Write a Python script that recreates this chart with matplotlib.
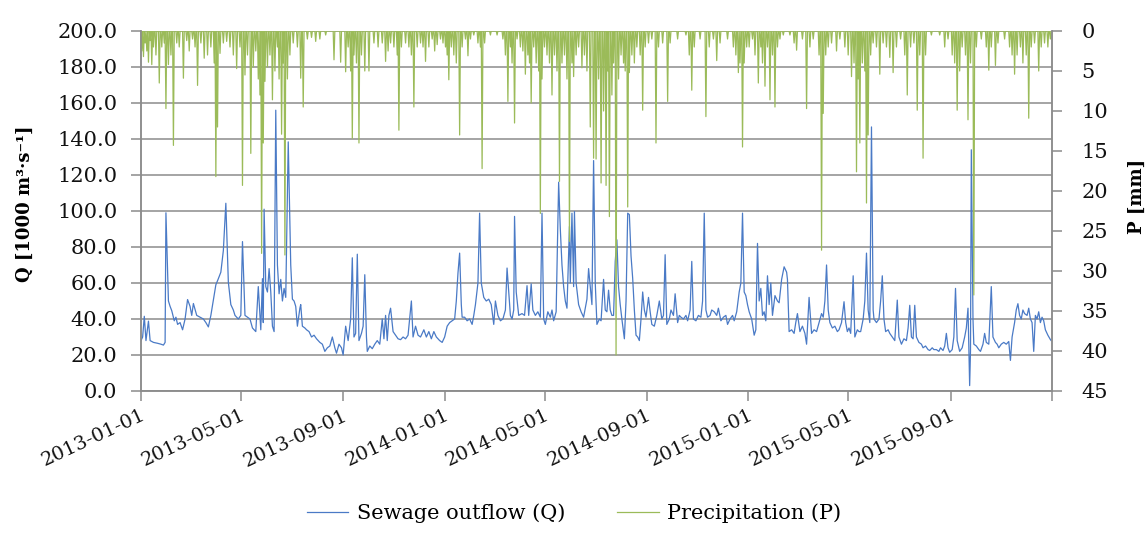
import numpy as np
import pandas as pd
import matplotlib
matplotlib.use("Agg")
import matplotlib.pyplot as plt

# ---------- data ----------
start = pd.Timestamp("2013-01-01")

# sewage outflow Q [1000 m3/s], day offset from 2013-01-01
q_day = [0, 2, 4, 6, 9, 11, 15, 20, 24, 27, 29, 30, 33, 35, 37, 40, 42, 44, 47, 50,
         53, 56, 59, 61, 63, 67, 71, 75, 78, 81, 84, 87, 90, 93, 96, 99, 102, 105, 108, 111,
         113, 117, 120, 122, 125, 128, 131, 134, 138, 141, 144, 146, 147, 148, 150, 152, 154, 156, 158, 160,
         162, 164, 166, 168, 170, 172, 174, 177, 180, 182, 184, 186, 188, 191, 192, 194, 197, 199, 202, 205,
         208, 211, 215, 218, 221, 224, 227, 230, 233, 235, 238, 241, 243, 246, 249, 252, 254, 256, 258, 260,
         262, 265, 267, 269, 271, 272, 275, 278, 281, 284, 287, 290, 292, 294, 296, 298, 300, 303, 306, 309,
         312, 315, 318, 321, 325, 327, 330, 333, 336, 340, 343, 346, 349, 352, 355, 359, 362, 365, 368, 371,
         374, 377, 379, 381, 383, 385, 386, 389, 392, 395, 398, 400, 402, 405, 407, 409, 412, 415, 418, 421,
         424, 426, 429, 432, 435, 438, 440, 442, 444, 446, 448, 449, 451, 454, 458, 461, 464, 466, 469, 471,
         474, 477, 480, 482, 484, 486, 489, 492, 494, 496, 499, 502, 504, 506, 508, 510, 512, 515, 516, 518,
         520, 521, 523, 526, 529, 532, 534, 536, 538, 540, 542, 544, 546, 548, 551, 553, 556, 558, 560, 562,
         564, 566, 568, 570, 572, 574, 576, 578, 581, 583, 585, 587, 589, 591, 593, 595, 597, 599, 601, 603,
         605, 607, 610, 612, 614, 617, 620, 623, 626, 628, 630, 632, 635, 637, 640, 642, 645, 647, 649, 652,
         655, 657, 660, 662, 664, 667, 670, 673, 675, 677, 679, 681, 684, 686, 689, 692, 694, 697, 700, 703,
         705, 708, 711, 713, 716, 719, 721, 723, 725, 727, 729, 731, 734, 737, 739, 741, 743, 745, 747, 749,
         751, 753, 755, 757, 759, 762, 765, 767, 770, 773, 776, 777, 779, 782, 785, 787, 789, 792, 795, 798,
         800, 803, 806, 809, 812, 815, 818, 820, 822, 824, 826, 828, 831, 834, 837, 839, 842, 845, 847, 849,
         851, 853, 856, 858, 861, 863, 865, 868, 870, 872, 874, 876, 878, 880, 881, 884, 887, 889, 891, 893,
         895, 898, 900, 903, 906, 909, 911, 914, 917, 920, 922, 924, 926, 928, 930, 932, 935, 938, 940, 943,
         946, 948, 951, 953, 956, 959, 961, 964, 966, 968, 970, 972, 975, 977, 979, 981, 984, 987, 990, 992,
         994, 996, 997, 998, 1000, 1001, 1004, 1007, 1009, 1012, 1014, 1016, 1019, 1022, 1024, 1027, 1029, 1031, 1034, 1037,
         1040, 1043, 1045, 1047, 1050, 1052, 1054, 1056, 1058, 1060, 1062, 1065, 1067, 1069, 1071, 1073, 1075, 1077, 1079, 1081,
         1083, 1085, 1087, 1090, 1093, 1094]
q_val = [28, 30, 41.5, 28, 38.8, 28, 27, 26.5, 26, 25.5, 27, 99, 50, 47, 44.6, 39, 41, 37, 38, 34,
         40, 50.8, 47, 42, 48.6, 42, 41, 40, 38, 35.6, 42, 50.6, 59, 62.4, 66, 78, 104.3, 60.5, 48, 45,
         42, 40, 42, 83, 42, 41, 40, 35, 33, 58, 34, 62.4, 38, 101, 58, 55, 68, 55, 36, 33,
         156, 70, 54, 62, 50, 57, 52, 138.4, 70, 51, 50, 47, 36, 46, 48, 36, 35, 34, 33, 30,
         31, 29, 27, 26, 22, 24, 25, 30, 24, 21, 26, 24, 20, 36, 28, 40, 74, 30, 32, 76,
         28, 32, 36, 64.6, 30, 22, 25, 23.5, 26, 28, 26, 40, 29, 42, 28, 42, 46, 33, 31, 29,
         28.5, 30, 29, 31, 50, 30, 36, 31, 30, 34, 30, 33, 29, 33, 30, 28, 27, 30, 36, 38,
         39, 40, 50, 65.5, 76.6, 48, 41, 41, 39, 40, 37, 42, 48, 60, 98.8, 60, 52, 50, 51, 48,
         37, 50, 42, 39, 40, 45, 68.3, 55, 42, 40, 45, 97, 55, 42, 43, 42, 58.5, 42, 59.5, 45,
         42, 44, 41, 98.8, 40, 37, 44, 41, 45, 39, 44, 116, 90, 70, 58, 50, 46, 91.4, 60, 98.8,
         58, 99.7, 60, 48, 44, 41, 46, 51, 68, 58, 48, 128, 60, 37, 40, 39, 62, 45, 44, 56,
         45, 42, 42, 72, 84, 58, 48, 40, 29, 50, 98.8, 98, 75, 62.5, 45, 31, 30, 28, 40, 55,
         45, 41, 52, 44, 37, 36, 42, 50, 40, 42, 75.7, 37, 40, 45, 42, 54, 38, 42, 41, 40,
         42, 39, 45, 72, 40, 39, 42, 41, 50, 98.8, 45, 41, 42, 45, 44, 42, 46, 39, 41, 42,
         37, 40, 42, 39, 44, 55, 60, 98.8, 55, 53, 48, 44, 40, 31, 34, 82, 50, 57, 42, 44,
         39, 64, 48, 60, 42, 53, 50, 49, 62, 69, 66, 62, 33, 34, 32, 38, 43, 33, 36, 32,
         26, 52, 32, 34, 33, 38, 43, 41, 50, 70, 45, 38, 35, 36, 33, 34, 38, 49.6, 38, 33,
         35, 32, 64, 30, 34, 33, 33, 40, 50, 76.6, 45, 38, 146.7, 45, 40, 38, 40, 50, 64, 40,
         33, 34, 32, 30, 28, 50.5, 30, 26, 29, 28, 35, 47.6, 30, 29, 47.6, 30, 27, 26, 24, 25,
         23, 22.5, 24, 23, 23, 22, 24, 22.5, 25, 32, 24, 21.5, 23, 30, 57, 28, 22, 24, 30, 35,
         46, 3, 22, 134, 40, 26, 25, 23, 22, 26, 32, 27, 26, 58, 30, 27, 26, 24, 26, 27,
         26, 27.5, 17, 30, 38, 45, 48.5, 42, 40, 45, 43, 42, 46, 40, 38, 22, 42, 40, 44, 38,
         41, 39, 34, 31, 28.6, 28]

# precipitation P [mm] on rainy days, day offset from 2013-01-01 (other days dry)
p_day = [1, 3, 5, 7, 9, 11, 13, 15, 18, 22, 25, 28, 30, 33, 36, 39, 43, 46, 51, 55,
         58, 62, 65, 68, 72, 76, 80, 84, 88, 90, 92, 95, 99, 103, 107, 111, 115, 119, 122, 125,
         128, 132, 135, 138, 141, 143, 145, 147, 149, 152, 155, 158, 161, 164, 166, 169, 171, 173, 176, 179,
         183, 188, 192, 195, 200, 205, 210, 215, 222, 232, 240, 246, 249, 252, 254, 256, 259, 262, 265, 269,
         274, 280, 285, 290, 294, 297, 300, 304, 308, 310, 313, 318, 322, 325, 328, 332, 336, 339, 342, 346,
         350, 353, 356, 360, 363,
         366, 368, 370, 373, 376, 379, 383, 386, 390, 393, 396, 400, 405, 408, 410, 413, 420, 428, 435, 438,
         441, 444, 446, 449, 452, 456, 459, 462, 465, 467, 469, 472, 475, 478, 480, 482, 485, 488, 491, 494,
         497, 500, 503, 506, 509, 512, 515, 518, 520, 523, 526, 530, 533, 536, 540, 544, 547, 550, 553, 556,
         559, 561, 563, 566, 568, 571, 574, 577, 580, 582, 585, 587, 590, 593, 596, 600, 603, 606, 610, 614,
         619, 622, 627, 633, 636, 645, 655, 659, 662, 665, 672, 679, 683, 688, 692, 696, 705, 712, 715, 718,
         720, 723, 725, 728,
         731, 735, 738, 742, 745, 747, 750, 753, 756, 759, 762, 765, 768, 772, 780, 785, 788, 795, 800, 804,
         808, 815, 818, 820, 823, 826, 830, 836, 840, 846, 850, 854, 857, 860, 862, 864, 867, 870, 872, 874,
         877, 880, 884, 888, 892, 896, 900, 904, 908, 913, 918, 921, 925, 929, 933, 936, 940, 943, 950, 960,
         966, 970, 975, 978, 981, 984, 987, 991, 994, 997, 1001, 1004, 1010, 1016, 1019, 1022, 1027, 1030, 1038, 1044,
         1047, 1050, 1053, 1057, 1060, 1064, 1067, 1070, 1074, 1079, 1082, 1086, 1090, 1093]
p_val = [2.5, 3.2, 1.5, 2.5, 3.9, 1.2, 4.2, 2, 3, 6.5, 2, 1.5, 9.7, 4.2, 3, 14.3, 1.5, 2, 5.9, 1.2,
         2.5, 1, 2, 6.8, 1.5, 3.4, 3, 2, 4, 18.2, 12, 2.8, 1.5, 1.3, 2, 3, 4.7, 2, 19.3, 5.5,
         3, 15.3, 4.5, 2.5, 6, 8, 27.8, 14, 6.3, 4.5, 3, 8.6, 5, 2, 6, 12.9, 4, 28, 6, 3,
         1.5, 2, 5.9, 9.5, 1, 0.8, 1.3, 1, 0.5, 3.6, 3.9, 5.1, 2, 5, 13.4, 3, 4, 14, 3, 5,
         5, 1.5, 2, 1.5, 3.8, 2.5, 1.5, 2, 3, 12.4, 2, 1.5, 2, 3, 9.5, 2, 1.5, 2, 3.8, 2,
         1, 2.5, 1.7, 1, 1.5,
         2, 3, 6.1, 2, 3, 4, 13, 2, 1, 3.1, 1, 0.5, 1.5, 2, 17.2, 1.5, 0.5, 0.5, 1, 3,
         8.8, 2, 4, 11.5, 1, 2, 2.5, 5.4, 3, 4, 9, 2, 4, 5, 22.8, 6, 2, 3, 4, 8,
         3, 5, 18.8, 4, 3, 6, 26.3, 4, 5.7, 3, 2, 4.6, 3, 5, 12, 15.9, 16, 6, 19, 10,
         19.3, 5, 23.2, 8, 4, 40.5, 6, 3, 4, 5, 22, 5.2, 3, 4, 2, 3, 9.9, 2, 1.5, 1,
         14, 2, 1.5, 8.8, 1.5, 1, 0.5, 3, 7.4, 2, 1, 10.7, 2, 1, 3.7, 1.5, 1, 2, 3, 5.2,
         4, 14.5, 4, 2,
         2, 1, 3, 6.5, 2, 4, 6.9, 2, 8.6, 3, 9.5, 2, 1, 0.5, 0.5, 1.5, 2.4, 1, 9.7, 2,
         1, 3, 27.4, 10.3, 3, 2, 1.5, 2.5, 1, 2, 3, 5.7, 4, 17.6, 6, 14, 4, 5, 21.5, 13,
         3, 1.5, 2, 5.4, 1.5, 2, 3.3, 5.2, 2, 1, 3, 8, 2, 1.5, 9.9, 3, 15.9, 3, 0.5, 0.5,
         2, 1, 3, 4, 9.9, 5, 2, 3, 11.1, 4, 33, 2, 1, 2, 4.9, 2, 4.3, 1.5, 1, 2,
         3, 5.4, 3, 2, 4, 3, 10.9, 2, 1.5, 5, 2, 1.5, 2, 1]

x_ticks = pd.date_range("2013-01-01", "2016-01-01", freq="4MS")
x_ticklabels = [d.strftime("%Y-%m-%d") for d in x_ticks[:-1]] + [""]

# ---------- build series ----------
q_dates = start + pd.to_timedelta(q_day, unit="D")
p_dates = pd.date_range("2013-01-01", "2015-12-31", freq="D")
p_daily = np.zeros(len(p_dates))
p_daily[p_day] = p_val

# ---------- plot ----------
grid_c = "#8c8c8c"
serif = "DejaVu Serif"
fig = plt.figure(figsize=(11.48, 5.39), dpi=100)
ax = fig.add_axes([0.1228, 0.2746, 0.7936, 0.6679])
ax2 = ax.twinx()

lq, = ax.plot(q_dates, q_val, color="#4a7ac6", lw=0.9, label="Sewage outflow (Q)")
lp, = ax2.plot(p_dates, p_daily, color="#9bbb59", lw=0.9, label="Precipitation (P)")

ax.set_xlim(pd.Timestamp("2013-01-01"), pd.Timestamp("2016-01-01"))
ax.set_ylim(0, 200)
ax.set_yticks(np.arange(0, 201, 20))
ax.set_yticklabels([f"{v:.1f}" for v in np.arange(0, 201, 20)])
ax2.set_ylim(45, 0)
ax2.set_yticks(np.arange(0, 46, 5))

ax.set_xticks(x_ticks)
ax.set_xticklabels(x_ticklabels, rotation=25, ha="right", rotation_mode="anchor")

ax.grid(axis="y", color=grid_c, lw=1.1)
ax.set_axisbelow(True)
for a in (ax, ax2):
    a.spines["top"].set_visible(False)
    for s in ("left", "right", "bottom"):
        a.spines[s].set_color(grid_c)
        a.spines[s].set_linewidth(1.1)

ax.tick_params(axis="y", direction="out", length=7, width=1.1, color=grid_c, labelsize=15, pad=10)
ax2.tick_params(axis="y", direction="out", length=7, width=1.1, color=grid_c, labelsize=15, pad=14)
ax.tick_params(axis="x", direction="out", length=7, width=1.1, color=grid_c, labelsize=14, pad=4)
for lab in ax.get_xticklabels() + ax.get_yticklabels() + ax2.get_yticklabels():
    lab.set_fontfamily(serif)
    lab.set_color("#111111")

ax.set_ylabel("Q [1000 m³·s⁻¹]", fontfamily=serif, fontweight="bold", fontsize=13)
ax.yaxis.set_label_coords(-0.118, 0.52)
ax2.set_ylabel("P [mm]", fontfamily=serif, fontweight="bold", fontsize=13)
ax2.yaxis.set_label_coords(1.083, 0.54)

fig.legend(handles=[lq, lp], loc="lower center", bbox_to_anchor=(0.5, -0.005), ncol=2,
           frameon=False, prop={"family": serif, "size": 15}, handlelength=2.0,
           columnspacing=2.5, handletextpad=0.4)

fig.savefig("out.png", dpi=100)
